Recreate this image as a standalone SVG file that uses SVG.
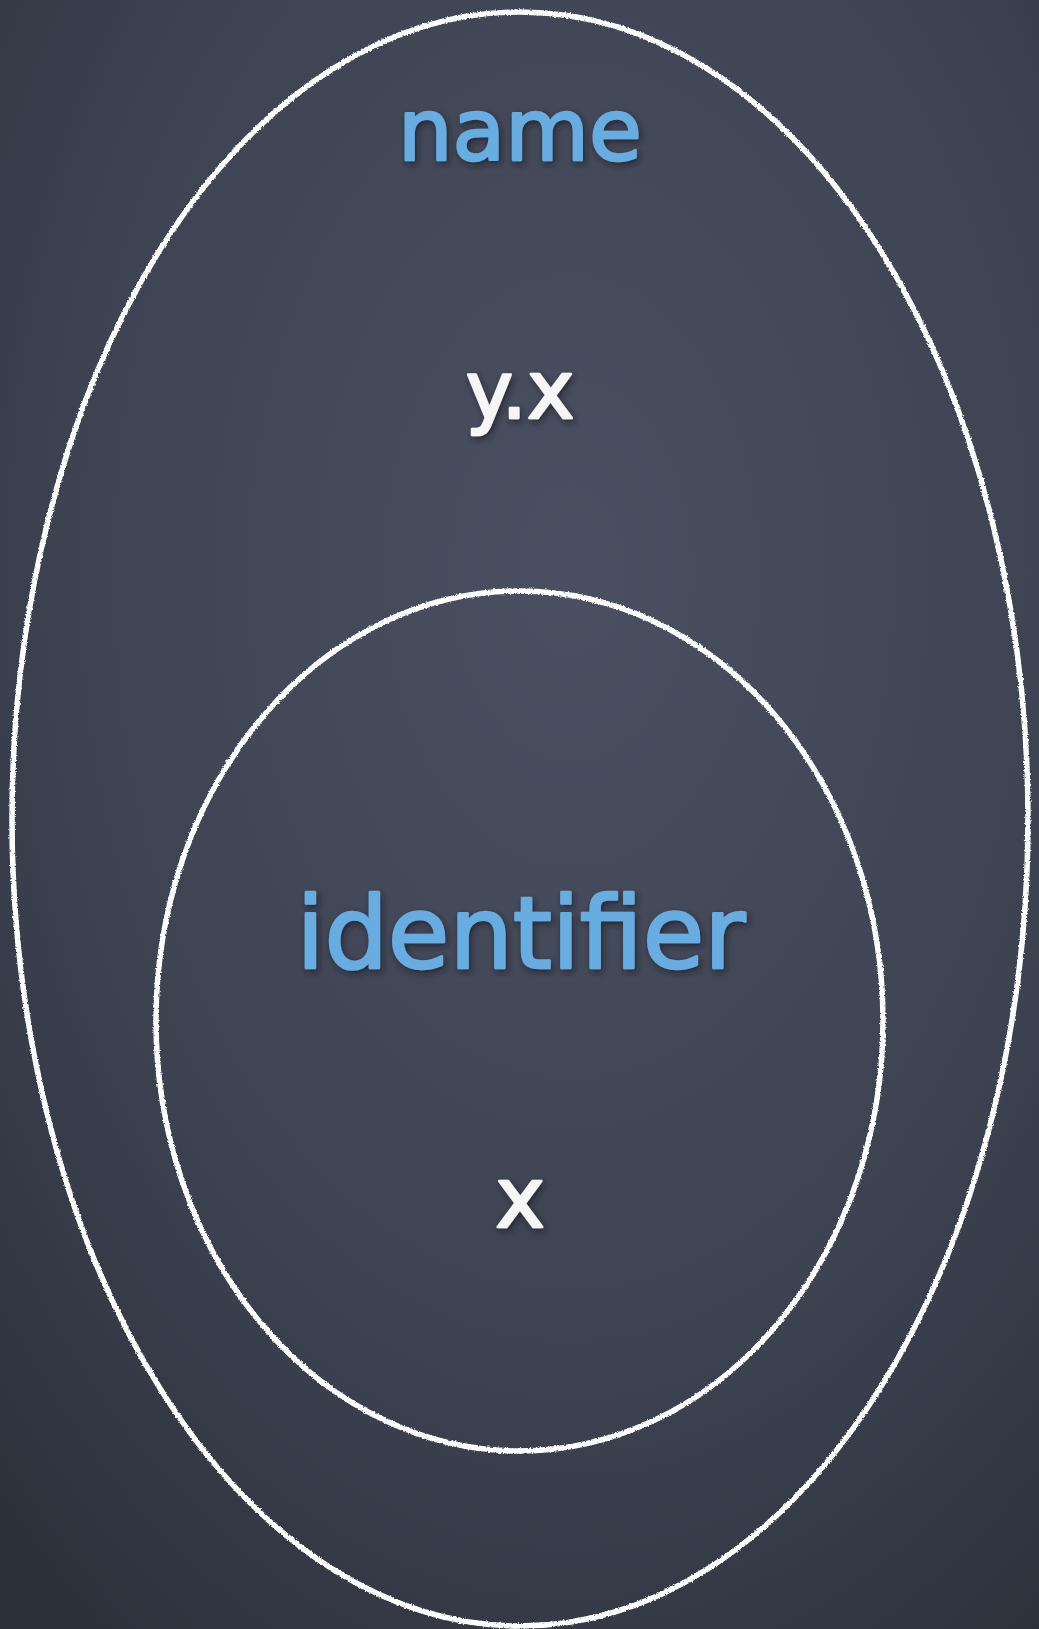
<svg xmlns="http://www.w3.org/2000/svg" width="1039" height="1629" viewBox="0 0 1039 1629">
  <style>
    .ring { fill: none; stroke: #ffffff; stroke-width: 5.5; filter: url(#chalk); }
    .blue { fill: #68ade2; stroke: #68ade2; stroke-width: 2.5; stroke-linejoin: round; font-family: "DejaVu Sans", "Liberation Sans", sans-serif; text-anchor: middle; filter: url(#shadow); }
    .white { fill: #f6f6f6; stroke: #f6f6f6; stroke-width: 2.5; stroke-linejoin: round; font-family: "DejaVu Sans", "Liberation Sans", sans-serif; text-anchor: middle; filter: url(#shadow); }
  </style>
  <defs>
    <radialGradient id="bg" cx="0.55" cy="0.35" r="0.8">
      <stop offset="0" stop-color="#4a5061"/>
      <stop offset="0.6" stop-color="#3e4352"/>
      <stop offset="1" stop-color="#2d313c"/>
    </radialGradient>
    <filter id="chalk" x="-5%" y="-5%" width="110%" height="110%">
      <feTurbulence type="fractalNoise" baseFrequency="0.6" numOctaves="2" seed="3" result="n"/>
      <feDisplacementMap in="SourceGraphic" in2="n" scale="3" xChannelSelector="R" yChannelSelector="G"/>
    </filter>
    <filter id="shadow" x="-10%" y="-20%" width="120%" height="140%">
      <feDropShadow dx="2" dy="3" stdDeviation="3" flood-color="#1a1d24" flood-opacity="0.7"/>
    </filter>
  </defs>
  <rect x="0" y="0" width="1039" height="1629" fill="url(#bg)"/>
  <g id="name-set">
    <ellipse class="ring" cx="520" cy="819" rx="508" ry="807"/>
    <text class="blue" x="520" y="160" font-size="86">name</text>
    <text id="yx" class="white" x="520" y="418" font-size="80">y.x</text>
  </g>
  <g id="identifier-set">
    <ellipse class="ring" cx="519.5" cy="1021" rx="363.5" ry="430"/>
    <text class="blue" x="521" y="968" font-size="100">identifier</text>
    <text id="x" class="white" x="520" y="1227" font-size="84">x</text>
  </g>
  <g id="connectors"/>
</svg>
